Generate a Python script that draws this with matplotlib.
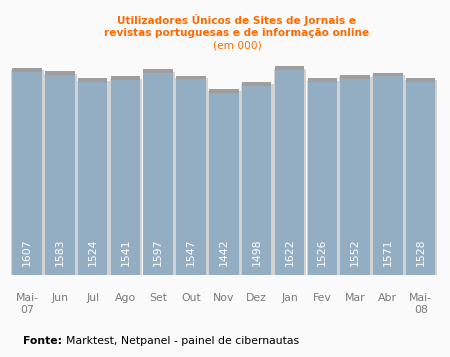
import matplotlib
matplotlib.use("Agg")
import matplotlib.pyplot as plt
import numpy as np

months = ["Mai-\n07", "Jun", "Jul", "Ago", "Set", "Out", "Nov", "Dez", "Jan", "Fev", "Mar", "Abr", "Mai-\n08"]
users = [1607, 1583, 1524, 1541, 1597, 1547, 1442, 1498, 1622, 1526, 1552, 1571, 1528]

bar_color = "#93adc3"
orange = "#ff6a00"

fig = plt.figure(figsize=(4.5, 3.57), dpi=100, facecolor="#fafafa")
ax = fig.add_axes([10.6 / 450, 1 - 275 / 357, 426.5 / 450, 215 / 357])
ax.set_facecolor("#fafafa")

x = np.arange(len(users))
# light gray shadow behind the bars
ax.bar(x + 0.02, np.array(users) + 10, 0.99, color="#d2d2d2", zorder=1)
ax.bar(x, users, 0.9, color=bar_color, zorder=2)
# dark cap on top of each bar
ax.bar(x, 34, 0.9, bottom=np.array(users) - 4, color="#9e9e9e", zorder=1.5)

for xi, v in zip(x, users):
    ax.text(xi, 68, str(v), rotation=90, ha="center", va="bottom",
            color="white", fontsize=7.8, zorder=3)

ax.set_xlim(-0.5, len(users) - 0.5)
ax.set_ylim(0, 1700)
ax.set_xticks(x, labels=months, fontsize=7.8, color="#7a7a7a")
ax.tick_params(length=0, pad=13)
ax.set_yticks([])
for s in ax.spines.values():
    s.set_visible(False)

fig.text(237 / 450, 1 - 20 / 357, "Utilizadores Únicos de Sites de Jornais e",
         ha="center", va="center", color=orange, fontsize=7.6, fontweight="bold")
fig.text(237 / 450, 1 - 33.5 / 357, "revistas portuguesas e de informação online",
         ha="center", va="center", color=orange, fontsize=7.6, fontweight="bold")
fig.text(237 / 450, 1 - 46 / 357, "(em 000)",
         ha="center", va="center", color=orange, fontsize=7.6)

fig.text(23 / 450, 1 - 341 / 357, "Fonte:", ha="left", va="center",
         color="black", fontsize=7.8, fontweight="bold")
fig.text(66 / 450, 1 - 341 / 357, "Marktest, Netpanel - painel de cibernautas",
         ha="left", va="center", color="black", fontsize=7.8)

plt.savefig("out.png", dpi=100, facecolor=fig.get_facecolor())
